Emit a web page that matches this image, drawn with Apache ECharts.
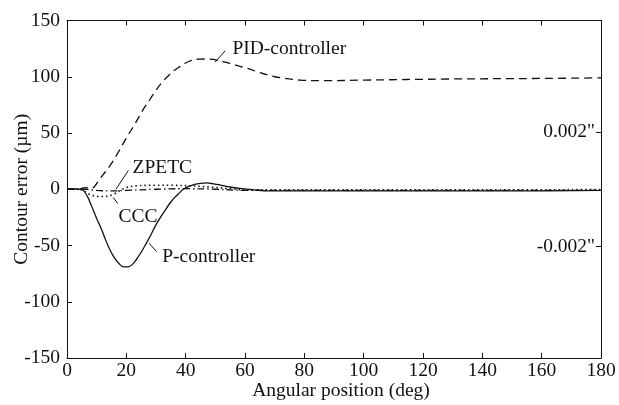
<!DOCTYPE html>
<html>
<head>
<meta charset="utf-8">
<script src="https://cdn.jsdelivr.net/npm/echarts@6/dist/echarts.min.js"></script>
<style>html,body{margin:0;padding:0;background:#fff}#c{width:619px;height:405px}</style>
</head>
<body>
<div id="c"></div>
<script>
// ---- data (angle in deg, contour error in µm) ----
const pAngle = [0,2,4,5.5,7,8.3,10,11.7,13,14.5,16,17.5,19,20.5,22,23.5,25,26.3,28,29.7,31.5,33,34.8,36.4,38,39.2,41,43,45,47,49,52,55,59,63,68,75,90,120,150,180];
const pError = [0,0.5,0,-1,-7,-15,-26,-36,-45,-54,-61,-66,-69,-69,-67,-62,-56,-50,-42,-33,-25,-19,-12,-7,-3,0,2.5,4.4,5.3,5.6,5,3.5,2,0.5,-0.5,-1.5,-1.5,-1.5,-1.5,-1.5,-1];

const pidAngle = [0,4,6,8.3,11.1,14.5,17.3,20.1,22.9,25.7,28,30,32,34,35.8,38,39.8,42,44.3,47,50.5,54.9,58,61.7,64.5,67.3,70,72.9,78.5,86.4,100,129,160,180];
const pidError = [0,0,1.5,1,9.5,21,33,46,58,71,80,88,95,100.5,105,109,112,114.5,115.7,115.8,114.8,111.8,109.5,106.8,104,101.8,100,98.8,97,96.5,97,98,98.5,99];

const zpetcAngle = [0,6,10,15,20,30,40,50,60,70,100,140,180];
const zpetcError = [0,0,-1,-1.5,-1,0,0.5,0,-1,-1,-1,-1,-1];

const cccAngle = [0,4,6,8,11,14,16,18,20,23,28,35,42,48,55,60,70,100,140,180];
const cccError = [0,0,-2,-5,-6.5,-6,-4,-1,1.5,3,3.5,3.5,3,2,0.5,-0.5,-0.5,-0.5,-0.5,-0.3];

const xTicks = {min: 0, max: 180, interval: 20};
const yTicks = {min: -150, max: 150, interval: 50};
const inchTicks = [-50.8, 50.8];           // ±0.002 inch in µm
const inchLabels = ['-0.002"', '0.002"'];

// annotations: [text, textAnchor(x,y), leaderStart(x,y), leaderEnd(x,y)]
const notes = [
  ['PID-controller', [55.6, 124.5], [49.9, 113], [53.3, 123]],
  ['ZPETC', [21.9, 18.6], [16.5, 0], [20.7, 16.8]],
  ['CCC', [17.2, -24.5], [15.6, -7.3], [17.1, -12.7]],
  ['P-controller', [31.9, -60], [27.7, -48], [30.2, -55.5]]
];

const zip = (a, b) => a.map((v, i) => [v, b[i]]);
const FONT = 'Liberation Serif';
const FS = 19.5;
const INK = '#111';

const chart = echarts.init(document.getElementById('c'), null, {renderer: 'canvas'});

const lineBase = {type: 'line', showSymbol: false, smooth: 0.35, animation: false, silent: true};

const mkPoints = notes.map(n => ({
  coord: n[1], symbol: 'rect', symbolSize: [1, 1], itemStyle: {color: 'rgba(0,0,0,0)'},
  label: {show: true, formatter: n[0], position: 'right', distance: 0, color: INK,
          fontFamily: FONT, fontSize: FS, align: 'left', verticalAlign: 'middle'}
}));
const mkLines = notes.map(n => [{coord: n[2]}, {coord: n[3]}]);

const axisLineStyle = {show: true, onZero: false, lineStyle: {color: INK, width: 1}};
const tickStyle = {show: true, inside: true, length: 5, lineStyle: {color: INK}};

chart.setOption({
  backgroundColor: '#fff',
  animation: false,
  grid: {left: 67, right: 18, top: 20.5, bottom: 47, containLabel: false, outerBoundsMode: 'none'},
  xAxis: [{
    type: 'value', position: 'bottom', ...xTicks,
    name: 'Angular position (deg)', nameLocation: 'middle', nameGap: 23, nameMoveOverlap: false,
    nameTextStyle: {fontFamily: FONT, fontSize: FS, color: INK, padding: [0, 0, 0, 14]},
    axisLine: axisLineStyle,
    axisTick: tickStyle,
    axisLabel: {fontFamily: FONT, fontSize: FS, color: INK, margin: 3},
    splitLine: {show: false}
  }, {
    type: 'value', position: 'top', ...xTicks,
    axisLine: axisLineStyle,
    axisTick: tickStyle,
    axisLabel: {show: false}, splitLine: {show: false}
  }],
  yAxis: [{
    type: 'value', position: 'left', ...yTicks,
    name: 'Contour error (µm)', nameLocation: 'middle', nameGap: 35, nameMoveOverlap: false,
    nameTextStyle: {fontFamily: FONT, fontSize: FS, color: INK, padding: [0, 0, 0, 0]},
    axisLine: axisLineStyle,
    axisTick: tickStyle,
    axisLabel: {fontFamily: FONT, fontSize: FS, color: INK, margin: 7},
    splitLine: {show: false}
  }, {
    type: 'value', position: 'right', ...yTicks,
    axisLine: axisLineStyle,
    axisTick: {...tickStyle, customValues: inchTicks},
    axisLabel: {show: true, inside: true, margin: 6, customValues: inchTicks,
      formatter: v => (v < 0 ? inchLabels[0] : inchLabels[1]),
      fontFamily: FONT, fontSize: FS, color: INK},
    splitLine: {show: false}
  }],
  series: [
    {...lineBase, name: 'P-controller', data: zip(pAngle, pError),
     lineStyle: {color: INK, width: 1.3, type: 'solid'},
     markPoint: {silent: true, animation: false, data: mkPoints},
     markLine: {silent: true, animation: false, symbol: ['none', 'none'],
       label: {show: false}, lineStyle: {color: INK, width: 1, type: 'solid'}, data: mkLines}},
    {...lineBase, name: 'PID-controller', data: zip(pidAngle, pidError),
     lineStyle: {color: INK, width: 1.3, type: [8, 5]}},
    {...lineBase, name: 'ZPETC', data: zip(zpetcAngle, zpetcError),
     lineStyle: {color: INK, width: 1.3, type: [7, 3, 1.5, 3]}},
    {...lineBase, name: 'CCC', data: zip(cccAngle, cccError),
     lineStyle: {color: INK, width: 1.6, type: [1.5, 3]}}
  ]
});
</script>
</body>
</html>
